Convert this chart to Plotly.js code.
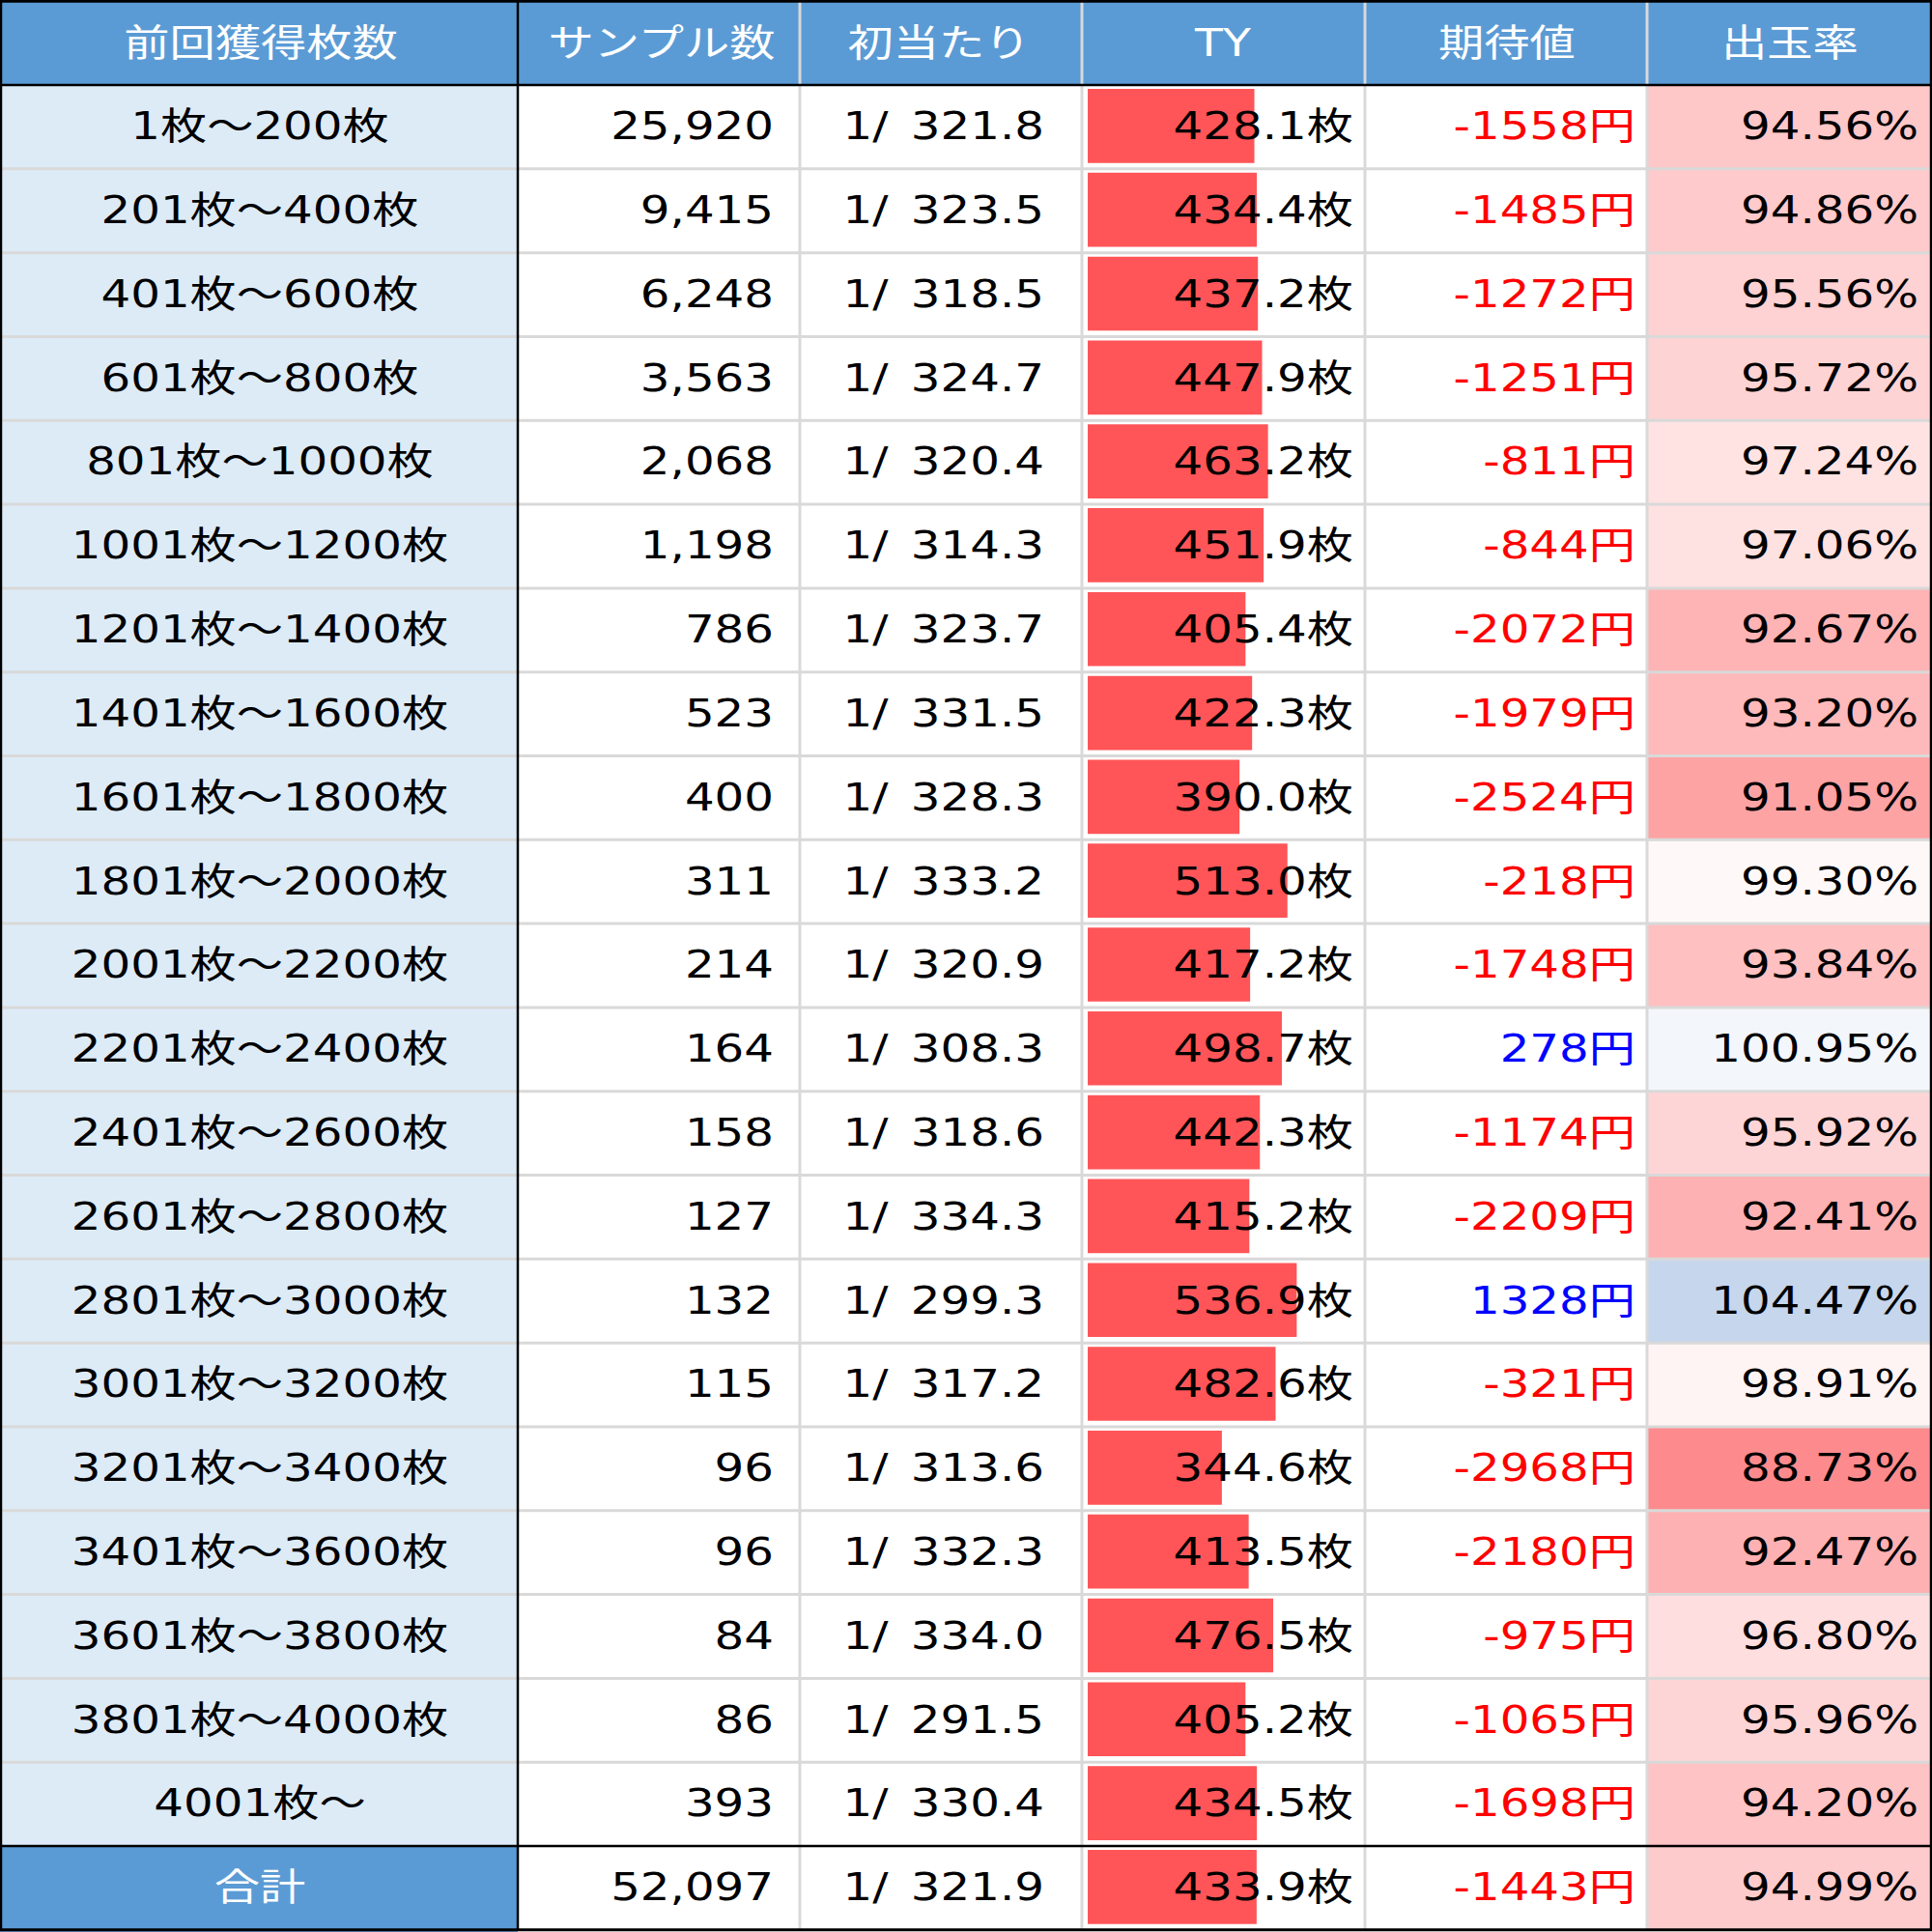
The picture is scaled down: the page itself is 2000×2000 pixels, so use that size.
<!DOCTYPE html>
<html><head><meta charset="utf-8">
<script src="https://cdn.plot.ly/plotly-3.0.1.min.js"></script>
<style>
html,body{margin:0;padding:0;width:2000px;height:2000px;overflow:hidden;background:#fff}
#chart{width:1620px;height:2000px;transform:scaleX(1.234568);transform-origin:0 0}
</style></head><body><div id="chart"></div>
<script>
const headers=["前回獲得枚数","サンプル数","初当たり","TY","期待値","出玉率"];
const rowLabels=["1枚～200枚","201枚～400枚","401枚～600枚","601枚～800枚","801枚～1000枚","1001枚～1200枚","1201枚～1400枚","1401枚～1600枚","1601枚～1800枚","1801枚～2000枚","2001枚～2200枚","2201枚～2400枚","2401枚～2600枚","2601枚～2800枚","2801枚～3000枚","3001枚～3200枚","3201枚～3400枚","3401枚～3600枚","3601枚～3800枚","3801枚～4000枚","4001枚～","合計"];
const samples=[25920,9415,6248,3563,2068,1198,786,523,400,311,214,164,158,127,132,115,96,96,84,86,393,52097];
const hitRate=[321.8,323.5,318.5,324.7,320.4,314.3,323.7,331.5,328.3,333.2,320.9,308.3,318.6,334.3,299.3,317.2,313.6,332.3,334.0,291.5,330.4,321.9];
const ty=[428.1,434.4,437.2,447.9,463.2,451.9,405.4,422.3,390.0,513.0,417.2,498.7,442.3,415.2,536.9,482.6,344.6,413.5,476.5,405.2,434.5,433.9];
const expected=[-1558,-1485,-1272,-1251,-811,-844,-2072,-1979,-2524,-218,-1748,278,-1174,-2209,1328,-321,-2968,-2180,-975,-1065,-1698,-1443];
const payout=[94.56,94.86,95.56,95.72,97.24,97.06,92.67,93.20,91.05,99.30,93.84,100.95,95.92,92.41,104.47,98.91,88.73,92.47,96.80,95.96,94.20,94.99];

const rows=rowLabels.map((_,i)=>i);
const W=2000;
const colEdges=[536,828,1120,1413,1705];
const headerX=[270,685,972,1266,1560,1853];
const colRight={samples:801,hit:1081,ty:1401,exp:1693,pay:1986};
const FONT='"DejaVu Sans","Noto Sans CJK JP",sans-serif';
const FS=39.1, HEAD_FS=38.3;
const TEXT_DY=0.035, HEAD_DY=0.045, BAR_DY=-0.012;
const textRows=n=>rows.slice(0,n).map(i=>i+TEXT_DY);

function textTrace(x,text,pos,color){
  return {type:'scatter',mode:'text',xaxis:'x3',yaxis:'y',x:x,y:textRows(text.length),text:text,
    textposition:pos,textfont:{family:FONT,size:FS,color:color||'#000'},cliponaxis:false,hoverinfo:'skip',showlegend:false};
}
const right=k=>rows.map(()=>colRight[k]);
const traces=[
 {type:'bar',orientation:'h',xaxis:'x',yaxis:'y',x:ty,y:rows.map(i=>i+BAR_DY),base:0,width:0.883,marker:{color:'#FF5558',line:{width:0}},hoverinfo:'skip',showlegend:false},
 {type:'heatmap',xaxis:'x2',yaxis:'y',x:[0],y:rows,z:payout.map(v=>[v]),zmin:88.73,zmax:104.47,showscale:false,hoverinfo:'skip',
  colorscale:[[0,'#FD8B8D'],[0.716,'#FFFFFF'],[1,'#C6D6EC']]},
 {type:'scatter',mode:'text',xaxis:'x3',yaxis:'y',x:rows.map(()=>269),y:textRows(22),text:rowLabels,textposition:'middle center',
  textfont:{family:FONT,size:rows.map(i=>i===21?HEAD_FS:FS),color:rows.map(i=>i===21?'#FFFFFF':'#000000')},cliponaxis:false,hoverinfo:'skip',showlegend:false},
 {type:'scatter',mode:'text',xaxis:'x3',yaxis:'y',x:headerX,y:headers.map(()=>-1+HEAD_DY),text:headers,textposition:'middle center',
  textfont:{family:FONT,size:HEAD_FS,color:'#FFFFFF'},cliponaxis:false,hoverinfo:'skip',showlegend:false},
 textTrace(right('samples'),samples.map(v=>v.toLocaleString('en-US')),'middle left'),
 textTrace(right('hit'),hitRate.map(v=>'1/ \u2006'+v.toFixed(1)),'middle left'),
 textTrace(right('ty'),ty.map(v=>v.toFixed(1)+'枚'),'middle left'),
 textTrace(right('exp'),expected.map(v=>v+'円'),'middle left',expected.map(v=>v<0?'#FF0000':'#0000FF')),
 textTrace(right('pay'),payout.map(v=>v.toFixed(2)+'%'),'middle left')
];
const shapes=[];
const rect=(x0,x1,y0,y1,fill)=>shapes.push({type:'rect',layer:'below',xref:'x3',yref:'y',x0,x1,y0,y1,fillcolor:fill,line:{width:0}});
const line=(x0,x1,y0,y1,color,w)=>shapes.push({type:'line',layer:'above',xref:'x3',yref:'y',x0,x1,y0,y1,line:{color:color,width:w}});
rect(0,W,-1.514,-0.5,'#5B9BD5');
rect(0,colEdges[0],-0.5,20.5,'#DDEBF7');
rect(0,colEdges[0],20.5,21.525,'#5B9BD5');
const GREY='#D9D9D9';
for(let i=0;i<20;i++) line(0,W,i+0.5,i+0.5,GREY,3);
colEdges.slice(1).forEach(x=>line(x,x,-1.5,21.5,GREY,2.4));
line(colEdges[0],colEdges[0],-1.5,21.5,'#000',2);
line(0,W,-0.5,-0.5,'#000',2.5);
line(0,W,20.5,20.5,'#000',2.5);
line(0,W,-1.5,-1.5,'#000',3);
line(0,W,21.5,21.5,'#000',3);
line(1,1,-1.5,21.5,'#000',2);
line(1999,1999,-1.5,21.5,'#000',2);

const hidden={visible:false,fixedrange:true};
const layout={width:1620,height:2000,margin:{l:0,r:0,t:0,b:0},paper_bgcolor:'#fff',plot_bgcolor:'rgba(0,0,0,0)',showlegend:false,hovermode:false,
 xaxis:{...hidden,domain:[1126/W,1413/W],range:[0,287/0.403],anchor:'y'},
 xaxis2:{...hidden,domain:[1705/W,1],range:[-0.5,0.5],anchor:'y'},
 xaxis3:{...hidden,domain:[0,1],range:[0,W],anchor:'y'},
 yaxis:{...hidden,domain:[0,1],range:[21.525,-1.514]},
 shapes:shapes};
Plotly.newPlot('chart',traces,layout,{displayModeBar:false,staticPlot:true});
</script></body></html>
